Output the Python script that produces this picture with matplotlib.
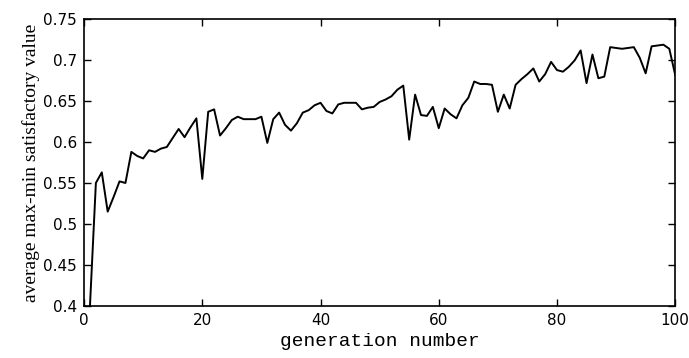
import numpy as np
import matplotlib
matplotlib.use('Agg')
import matplotlib.pyplot as plt

# average max-min satisfactory value per generation
generations = np.arange(1, 101)
avg_value = [0.400, 0.550, 0.563, 0.515, 0.533, 0.552, 0.550, 0.588, 0.583, 0.580,
             0.590, 0.588, 0.592, 0.594, 0.605, 0.616, 0.606, 0.618, 0.629, 0.555,
             0.637, 0.640, 0.608, 0.617, 0.627, 0.631, 0.628, 0.628, 0.628, 0.631,
             0.599, 0.628, 0.636, 0.621, 0.614, 0.623, 0.636, 0.639, 0.645, 0.648,
             0.638, 0.635, 0.646, 0.648, 0.648, 0.648, 0.640, 0.642, 0.643, 0.649,
             0.652, 0.656, 0.664, 0.669, 0.603, 0.658, 0.633, 0.632, 0.643, 0.617,
             0.641, 0.634, 0.629, 0.645, 0.654, 0.674, 0.671, 0.671, 0.670, 0.637,
             0.658, 0.641, 0.670, 0.677, 0.683, 0.690, 0.674, 0.683, 0.698, 0.688,
             0.686, 0.692, 0.700, 0.712, 0.672, 0.707, 0.678, 0.680, 0.716, 0.715,
             0.714, 0.715, 0.716, 0.703, 0.684, 0.717, 0.718, 0.719, 0.714, 0.682]

xticks = [0, 20, 40, 60, 80, 100]
yticks = [0.4, 0.45, 0.5, 0.55, 0.6, 0.65, 0.7, 0.75]
ytick_labels = ['0.4', '0.45', '0.5', '0.55', '0.6', '0.65', '0.7', '0.75']

fig = plt.figure(figsize=(6.89, 3.58), dpi=100)
ax = fig.add_axes([0.122, 0.146, 0.858, 0.8])

ax.plot(generations, avg_value, color='black', linewidth=1.4)

ax.set_xlim(0, 100)
ax.set_ylim(0.4, 0.75)
ax.set_xticks(xticks)
ax.set_yticks(yticks)
ax.set_yticklabels(ytick_labels)
ax.tick_params(direction='in', length=5, width=1, top=True, right=True,
               labelsize=11, pad=5)
for s in ax.spines.values():
    s.set_linewidth(1.2)

ax.set_xlabel('generation number', fontsize=14, family='Liberation Mono', labelpad=4)
ax.set_ylabel('average max-min satisfactory value', fontsize=14,
              family='Liberation Serif', labelpad=2)

fig.savefig('out.png', dpi=100)
